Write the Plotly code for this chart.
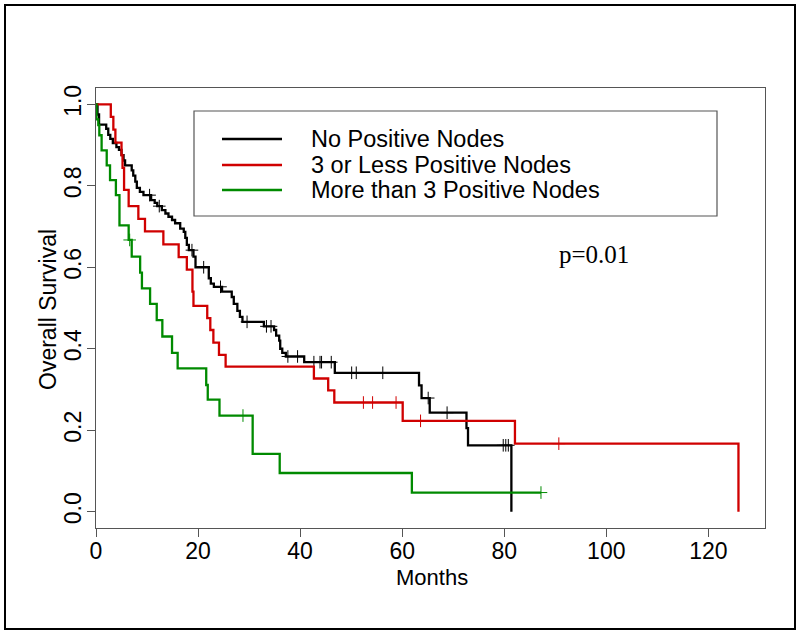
import numpy as np
import plotly.graph_objects as go

# ---- data ----
group_names = ["No Positive Nodes", "3 or Less Positive Nodes", "More than 3 Positive Nodes"]
group_colors = ["#000000", "#d00000", "#008a00"]

black_t = [0.3, 0.6, 2.0, 2.4, 2.8, 3.3, 4.0, 4.5, 5.0, 5.4, 5.7, 7.0, 7.3, 7.7, 8.0, 8.6, 9.3, 10.8, 11.5, 12.0,
           12.9, 13.6, 14.2, 14.9, 15.5, 16.5, 17.2, 17.5, 17.8, 18.2, 19.1, 19.5, 22.1, 22.5, 23.1, 24.7, 26.6, 27.0,
           27.7, 28.2, 28.7, 32.9, 34.9, 35.3, 35.9, 36.1, 36.5, 37.2, 40.8, 46.8, 63.3, 63.8, 65.4, 72.6, 72.9, 81.4]
black_s = [0.975, 0.95, 0.94, 0.925, 0.915, 0.905, 0.895, 0.888, 0.875, 0.862, 0.85, 0.838, 0.825, 0.81, 0.795,
           0.785, 0.777, 0.765, 0.758, 0.75, 0.74, 0.732, 0.724, 0.716, 0.708, 0.695, 0.687, 0.672, 0.655, 0.642,
           0.626, 0.600, 0.573, 0.56, 0.552, 0.54, 0.527, 0.51, 0.493, 0.478, 0.466, 0.455, 0.446, 0.432, 0.42,
           0.40, 0.39, 0.381, 0.367, 0.341, 0.31, 0.279, 0.243, 0.205, 0.163, 0.0]
black_cens = [10.5, 12.4, 18.8, 21.1, 24.4, 29.6, 33.4, 34.3, 37.6, 39.5, 42.7, 43.9, 44.2, 46.1, 50.1, 51.0,
              56.2, 65.1, 68.8, 79.8, 80.3, 80.8]

red_t = [2.9, 3.4, 3.8, 5.0, 5.2, 5.5, 6.4, 8.3, 9.6, 13.2, 16.2, 17.8, 18.9, 19.1, 21.8, 22.4, 23.0, 24.1, 25.4,
         42.7, 45.5, 46.7, 60.1, 82.1, 125.9]
red_s = [0.969, 0.938, 0.906, 0.875, 0.844, 0.79, 0.75, 0.719, 0.688, 0.656, 0.625, 0.594, 0.54, 0.505, 0.475,
         0.446, 0.415, 0.385, 0.356, 0.327, 0.298, 0.268, 0.223, 0.167, 0.0]
red_cens = [52.4, 54.2, 58.8, 63.6, 90.7]

green_t = [0.1, 0.45, 0.65, 1.1, 2.1, 2.75, 3.9, 4.6, 6.4, 7.0, 8.65, 9.0, 10.6, 11.9, 13.0, 14.9, 16.0, 21.6,
           21.9, 24.2, 30.7, 36.0, 61.9]
green_s = [0.963, 0.949, 0.924, 0.887, 0.85, 0.814, 0.777, 0.703, 0.667, 0.626, 0.587, 0.548, 0.51, 0.47, 0.43,
           0.39, 0.352, 0.311, 0.275, 0.236, 0.142, 0.095, 0.047]
green_cens = [6.6, 28.8, 87.2]
green_last = 87.2

x_ticks = [0, 20, 40, 60, 80, 100, 120]
y_ticks = [0.0, 0.2, 0.4, 0.6, 0.8, 1.0]
p_text = "p=0.01"

FONT = "Liberation Sans, Arial, sans-serif"


def step_value(times, surv, t):
    idx = np.searchsorted(np.asarray(times), t, side="right") - 1
    return 1.0 if idx < 0 else surv[idx]


fig = go.Figure()
curves = [
    (black_t, black_s, black_cens, None),
    (red_t, red_s, red_cens, None),
    (green_t, green_s, green_cens, green_last),
]
for (t, s, cens, last), name, col in zip(curves, group_names, group_colors):
    xs = [0.0] + list(t)
    ys = [1.0] + list(s)
    if last is not None:
        xs.append(last)
        ys.append(s[-1])
    fig.add_trace(go.Scatter(x=xs, y=ys, mode="lines", line=dict(color=col, width=2.3, shape="hv"),
                             name=name, showlegend=False))
    fig.add_trace(go.Scatter(x=cens, y=[step_value(t, s, c) for c in cens], mode="markers",
                             marker=dict(symbol="cross-thin", size=9, line=dict(color=col, width=1)),
                             showlegend=False))

# plot region in px: left 96, right 765, top 88, bottom 528 of 800x633
W, H = 800, 633
L, R, T, B = 96, 35, 88, 105
pw, ph = W - L - R, H - T - B


def px(x):
    return (x - L) / pw


def py(y):
    return (H - B - y) / ph


shapes = [
    # outer frame
    dict(type="rect", xref="paper", yref="paper", x0=px(5), x1=px(795), y0=py(629), y1=py(5),
         line=dict(color="#000000", width=2), layer="below"),
    # legend box
    dict(type="rect", xref="paper", yref="paper", x0=px(194), x1=px(717), y0=py(216), y1=py(111),
         line=dict(color="#555555", width=1.2), fillcolor="white"),
]
annotations = []
rows_y = [139, 165, 190]
for name, col, ry in zip(group_names, group_colors, rows_y):
    shapes.append(dict(type="line", xref="paper", yref="paper", x0=px(222), x1=px(282), y0=py(ry), y1=py(ry),
                       line=dict(color=col, width=2.3)))
    annotations.append(dict(text=name, xref="paper", yref="paper", x=px(309), y=py(ry), xanchor="left",
                            yanchor="middle", showarrow=False, font=dict(family=FONT, size=23.5, color="black")))

annotations += [
    dict(text=p_text, xref="x", yref="y", x=97.5, y=0.632, showarrow=False,
         font=dict(family="Liberation Serif, Times New Roman, serif", size=25, color="black")),
    dict(text="Months", xref="paper", yref="paper", x=px(432), y=py(577), xanchor="center", yanchor="middle",
         showarrow=False, font=dict(family=FONT, size=22, color="black")),
    dict(text="Overall Survival", xref="paper", yref="paper", x=px(48), y=py(310), xanchor="center",
         yanchor="middle", textangle=-90, showarrow=False, font=dict(family=FONT, size=23, color="black")),
]

axis_common = dict(showgrid=False, zeroline=False, showline=True, mirror=True, linecolor="#555555",
                   linewidth=1.2, ticks="outside", ticklen=8, tickwidth=1.2, tickcolor="#555555",
                   tickfont=dict(family=FONT, size=23, color="black"))

fig.update_layout(
    width=W, height=H,
    margin=dict(l=L, r=R, t=T, b=B, autoexpand=False),
    paper_bgcolor="white", plot_bgcolor="white",
    xaxis=dict(range=[0, 131.1], tickvals=x_ticks, ticktext=[str(v) for v in x_ticks],
               ticklabelstandoff=-6, **axis_common),
    yaxis=dict(range=[-0.04, 1.04], tickvals=y_ticks, ticktext=[f"{v:.1f}" for v in y_ticks], tickangle=-90,
               ticklabelstandoff=-3, **axis_common),
    shapes=shapes,
    annotations=annotations,
    showlegend=False,
)

fig.write_html("out.html", config={"displayModeBar": False},
               post_script="document.body.style.margin='0';document.body.style.overflow='hidden';")
